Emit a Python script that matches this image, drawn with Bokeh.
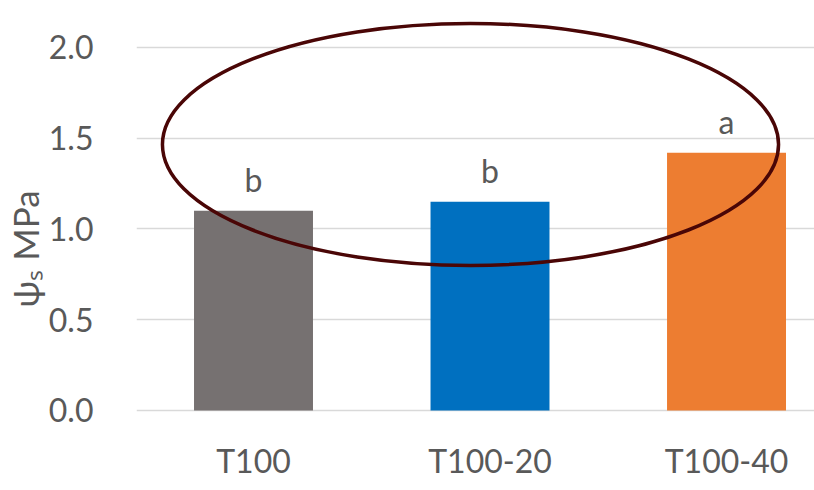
from bokeh.plotting import figure
from bokeh.models import Range1d, FixedTicker, NumeralTickFormatter, Title
from bokeh.core.properties import value
from bokeh.embed import file_html
from bokeh.resources import INLINE

categories = ["T100", "T100-20", "T100-40"]
psi_s = [1.10, 1.15, 1.42]
letters = ["b", "b", "a"]
bar_colors = ["#767171", "#0070C0", "#ED7D31"]
y_ticks = [0.0, 0.5, 1.0, 1.5, 2.0]
y_label = "ψₛ MPa"

# highlight ellipse (data units)
ell_x, ell_y, ell_w, ell_h = 0.9175, 1.4656, 2.605, 1.333

FONT = "Lato"
TXT = "#595959"

xs = list(range(len(categories)))
zeros = [0.0] * len(categories)

p = figure(width=814, height=490, output_backend="svg", toolbar_location=None,
           x_range=Range1d(-0.4947, 2.372), y_range=Range1d(-0.4408, 2.176),
           min_border_left=136, min_border_right=0, min_border_top=15,
           min_border_bottom=0)
p.outline_line_color = None
p.background_fill_color = "white"
p.border_fill_color = "white"

p.vbar(x=xs, top=psi_s, width=0.503, color=bar_colors, line_color=None)

# significance letters above bars
p.text(x=xs, y=psi_s, text=letters, text_align="center", text_baseline="alphabetic",
       y_offset=-31, text_font=value(FONT), text_font_size="32px", text_color=TXT)

# category labels under the baseline
p.text(x=xs, y=zeros, text=categories, text_align="center", text_baseline="top",
       y_offset=31, text_font=value(FONT), text_font_size="32px", text_color=TXT)

p.ellipse(x=[ell_x], y=[ell_y], width=[ell_w], height=[ell_h], fill_color=None,
          line_color="#4A0606", line_width=3.5)

p.xgrid.visible = False
p.xaxis.visible = False
p.ygrid.grid_line_color = "#D9D9D9"
p.ygrid.grid_line_width = 1.5
p.ygrid.ticker = FixedTicker(ticks=y_ticks)

p.yaxis.ticker = FixedTicker(ticks=y_ticks)
p.yaxis.formatter = NumeralTickFormatter(format="0.0")
p.yaxis.axis_line_color = None
p.yaxis.major_tick_line_color = None
p.yaxis.minor_tick_line_color = None
p.yaxis.major_label_standoff = 37
p.yaxis.major_label_text_font = FONT
p.yaxis.major_label_text_font_size = "32px"
p.yaxis.major_label_text_color = TXT

p.add_layout(Title(text=y_label, align="left", offset=183, standoff=0,
                   text_font=FONT, text_font_size="35px", text_font_style="normal",
                   text_color=TXT), "left")

open("out.html", "w").write(file_html(p, INLINE))
